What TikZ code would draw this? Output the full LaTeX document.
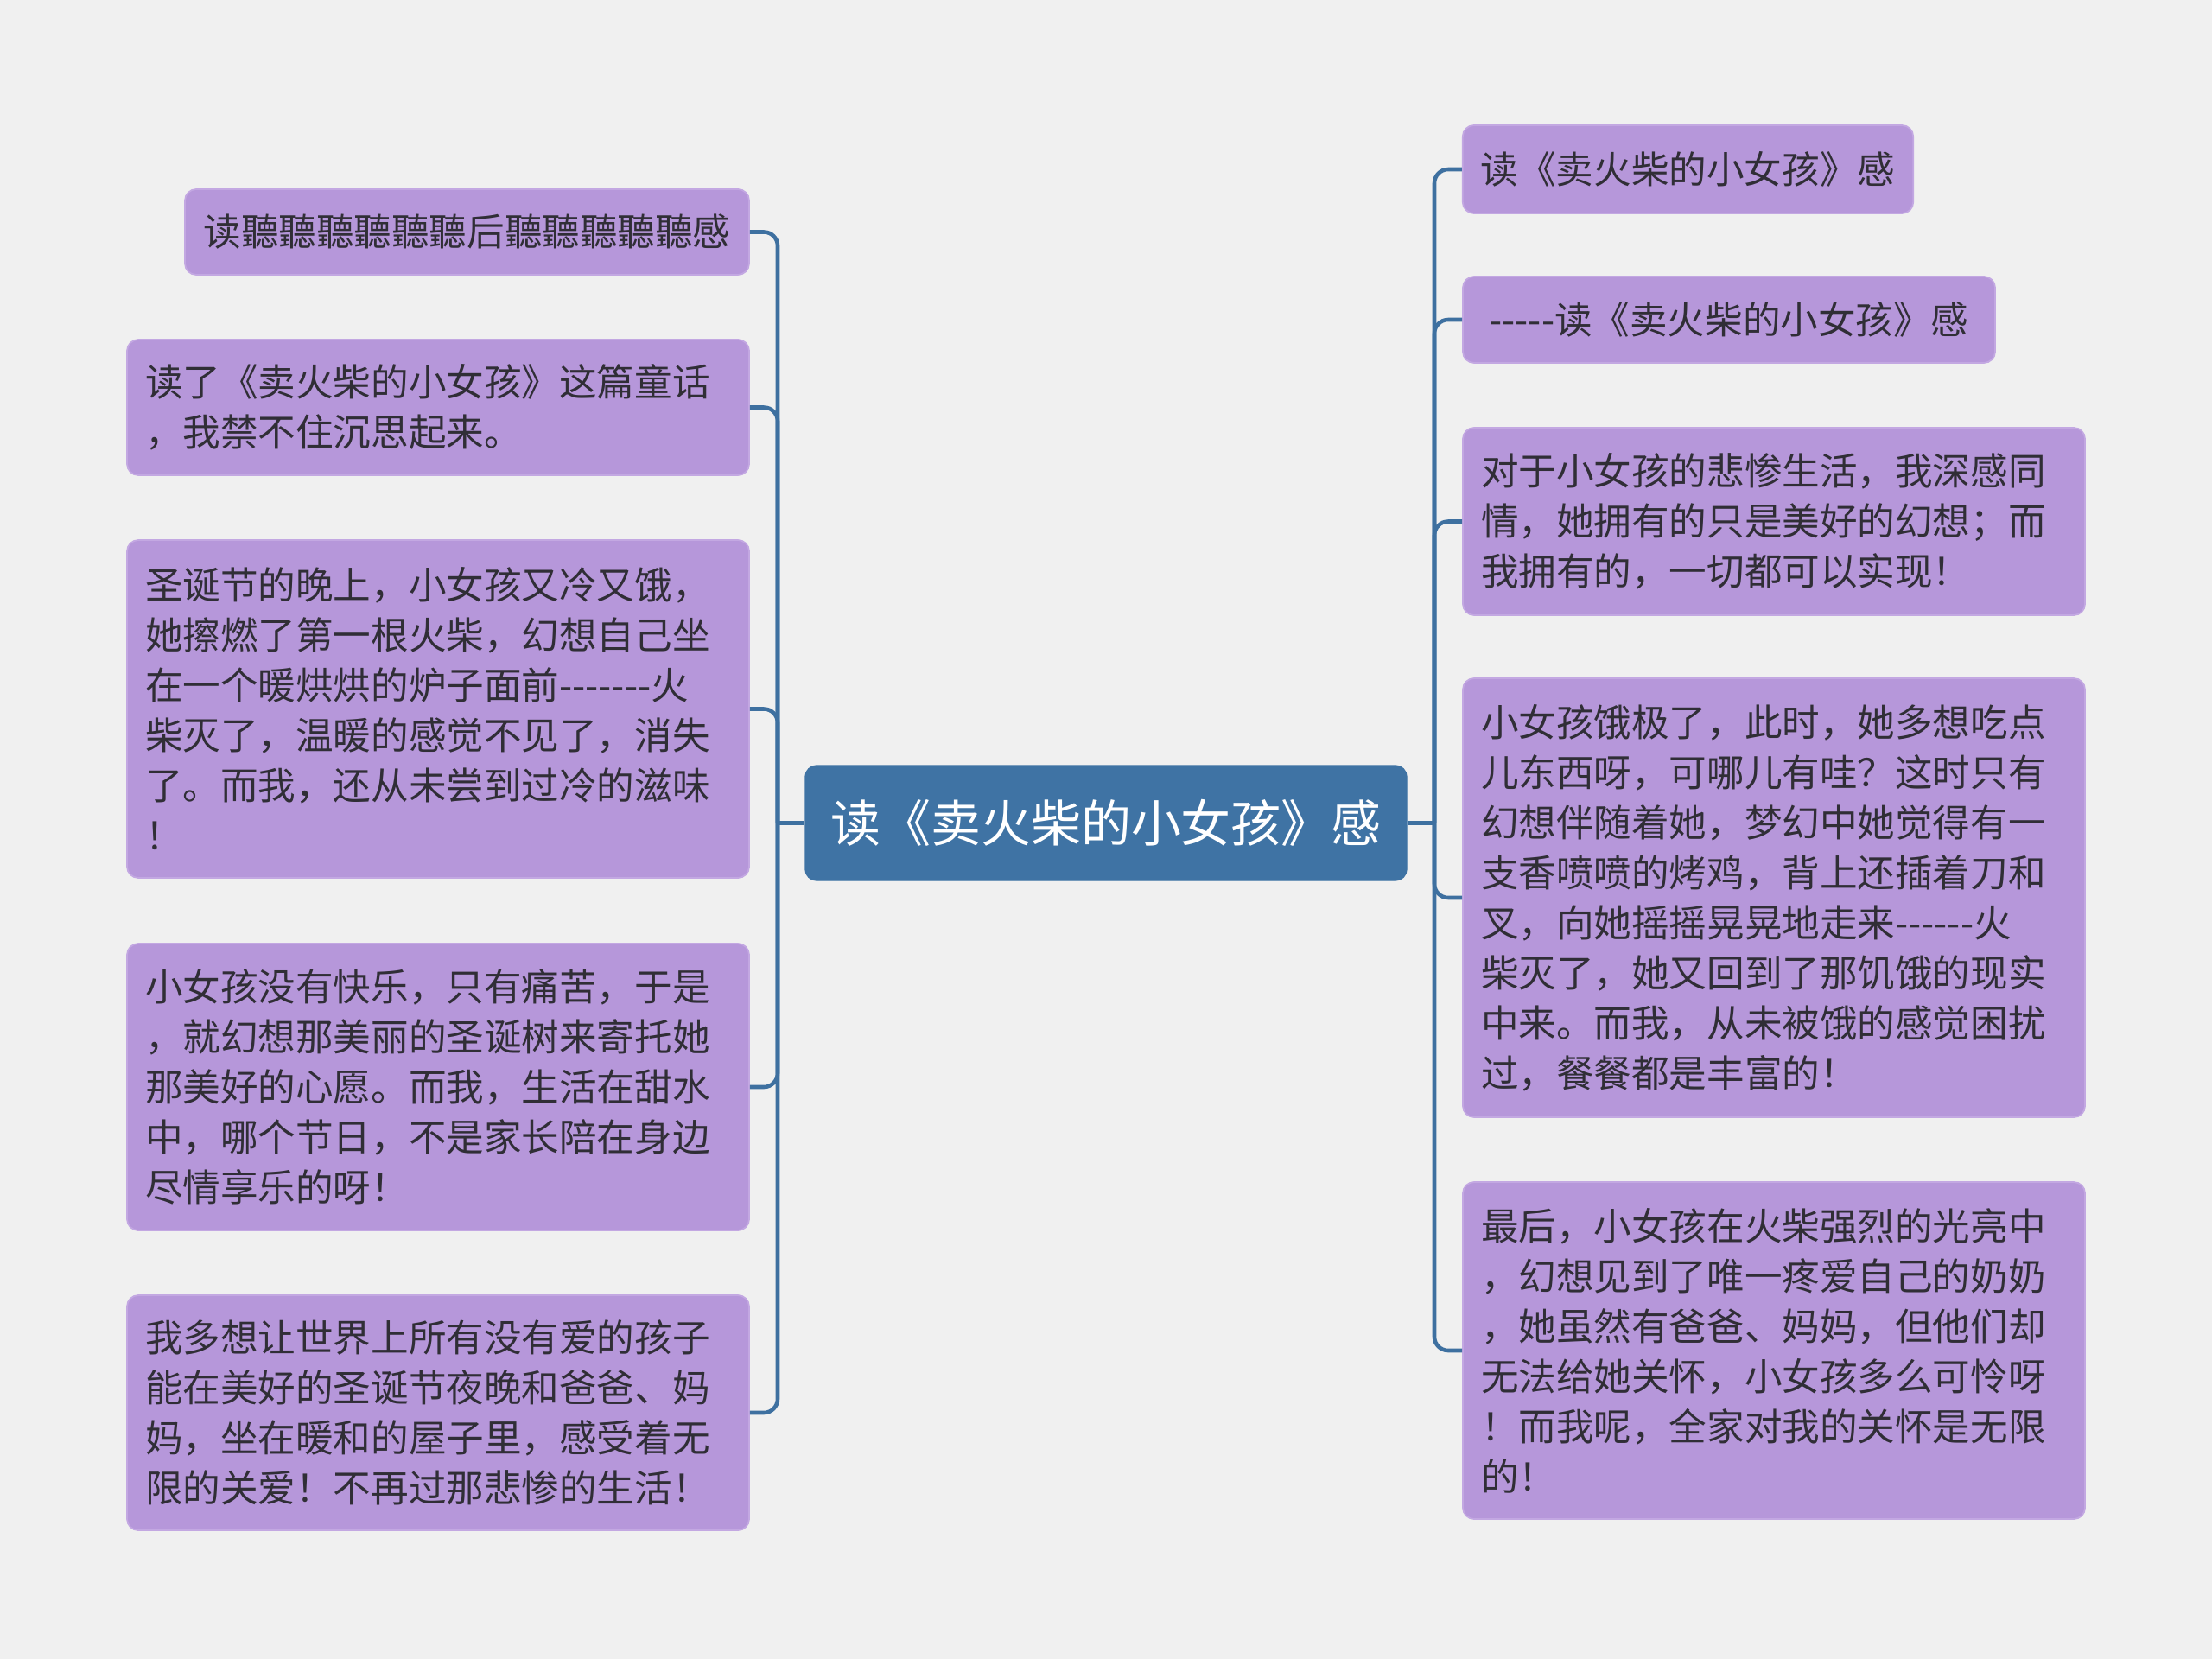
\documentclass[tikz,border=0pt]{standalone}
\usepackage{fontspec}
\setmainfont[Ligatures=TeXOff]{Noto Sans CJK SC}
\usetikzlibrary{positioning}
\definecolor{bgc}{HTML}{F0F0F0}
\definecolor{leaffill}{HTML}{B697DA}
\definecolor{leafdraw}{HTML}{C3A8E2}
\definecolor{rootfill}{HTML}{3F73A4}
\definecolor{linec}{HTML}{3E70A0}
\definecolor{txtc}{HTML}{302E36}
\tikzset{
  leaf/.style={rectangle, rounded corners=0.13cm, fill=leaffill, draw=leafdraw, line width=0.5pt,
    text=txtc, font=\fontsize{12.4pt}{16.5pt}\selectfont, inner xsep=0.21cm, inner ysep=0pt},
  multi/.style={leaf, text width=6.78cm, align=left, minimum width=7.2cm},
  single/.style={leaf, align=center},
  rootbox/.style={rectangle, rounded corners=0.13cm, fill=rootfill, draw=rootfill, text=white,
    font=\fontsize{16.5pt}{20pt}\selectfont, inner sep=0pt, minimum width=6.96cm, minimum height=1.33cm},
  conn/.style={draw=linec, line width=1.3pt, rounded corners=0.16cm}
}
\begin{document}
\begin{tikzpicture}
\path[use as bounding box, fill=bgc] (0,0) rectangle (25.6,-19.2);

\node[rootbox] (C) at (12.80,-9.525) {读《卖火柴的小女孩》感};

\node[single, minimum width=6.53cm, minimum height=0.99cm] (L1) at (5.405,-2.685) {读聽聽聽聽聽聽后聽聽聽聽聽感};
\node[multi, minimum height=1.57cm] (L2) at (5.07,-4.715) {读了《卖火柴的小女孩》这篇童话\\，我禁不住沉思起来。};
\node[multi, minimum height=3.91cm] (L3) at (5.07,-8.205) {圣诞节的晚上，小女孩又冷又饿，\\她擦燃了第一根火柴，幻想自己坐\\在一个暖烘烘的炉子面前-------火\\柴灭了，温暖的感觉不见了，消失\\了。而我，还从未尝到过冷的滋味\\！};
\node[multi, minimum height=3.32cm] (L4) at (5.07,-12.58) {小女孩没有快乐，只有痛苦，于是\\，就幻想那美丽的圣诞树来寄托她\\那美好的心愿。而我，生活在甜水\\中，哪个节日，不是家长陪在身边\\尽情享乐的呀！};
\node[multi, minimum height=2.72cm] (L5) at (5.07,-16.35) {我多想让世界上所有没有爱的孩子\\能在美好的圣诞节夜晚和爸爸、妈\\妈，坐在暖和的屋子里，感受着无\\限的关爱！不再过那悲惨的生活！};

\node[single, minimum width=5.21cm, minimum height=1.02cm] (R1) at (19.535,-1.96) {读《卖火柴的小女孩》感};
\node[single, minimum width=6.16cm, minimum height=1.00cm] (R2) at (20.01,-3.70) {-----读《卖火柴的小女孩》感};
\node[multi, minimum height=2.17cm] (R3) at (20.53,-6.035) {对于小女孩的悲惨生活，我深感同\\情，她拥有的只是美好的幻想；而\\我拥有的，一切都可以实现！};
\node[multi, minimum height=5.08cm] (R4) at (20.53,-10.39) {小女孩饿极了，此时，她多想吃点\\儿东西呀，可哪儿有哇？这时只有\\幻想伴随着她，梦幻中她觉得有一\\支香喷喷的烤鸡，背上还插着刀和\\叉，向她摇摇晃晃地走来------火\\柴灭了，她又回到了那饥饿的现实\\中来。而我，从未被饿的感觉困扰\\过，餐餐都是丰富的！};
\node[multi, minimum height=3.90cm] (R5) at (20.53,-15.63) {最后，小女孩在火柴强烈的光亮中\\，幻想见到了唯一疼爱自己的奶奶\\，她虽然有爸爸、妈妈，但他们却\\无法给她关怀，小女孩多么可怜呀\\！而我呢，全家对我的关怀是无限\\的！};

\coordinate (lj) at (9.00,-9.525);
\coordinate (rj) at (16.60,-9.525);
\draw[conn] (C.west) -- (lj);
\draw[conn] (C.east) -- (rj);
\foreach \n in {L1,L2,L3,L4,L5} {\draw[conn] (lj) |- (\n.east);}
\foreach \n in {R1,R2,R3,R4,R5} {\draw[conn] (rj) |- (\n.west);}
\end{tikzpicture}
\end{document}
